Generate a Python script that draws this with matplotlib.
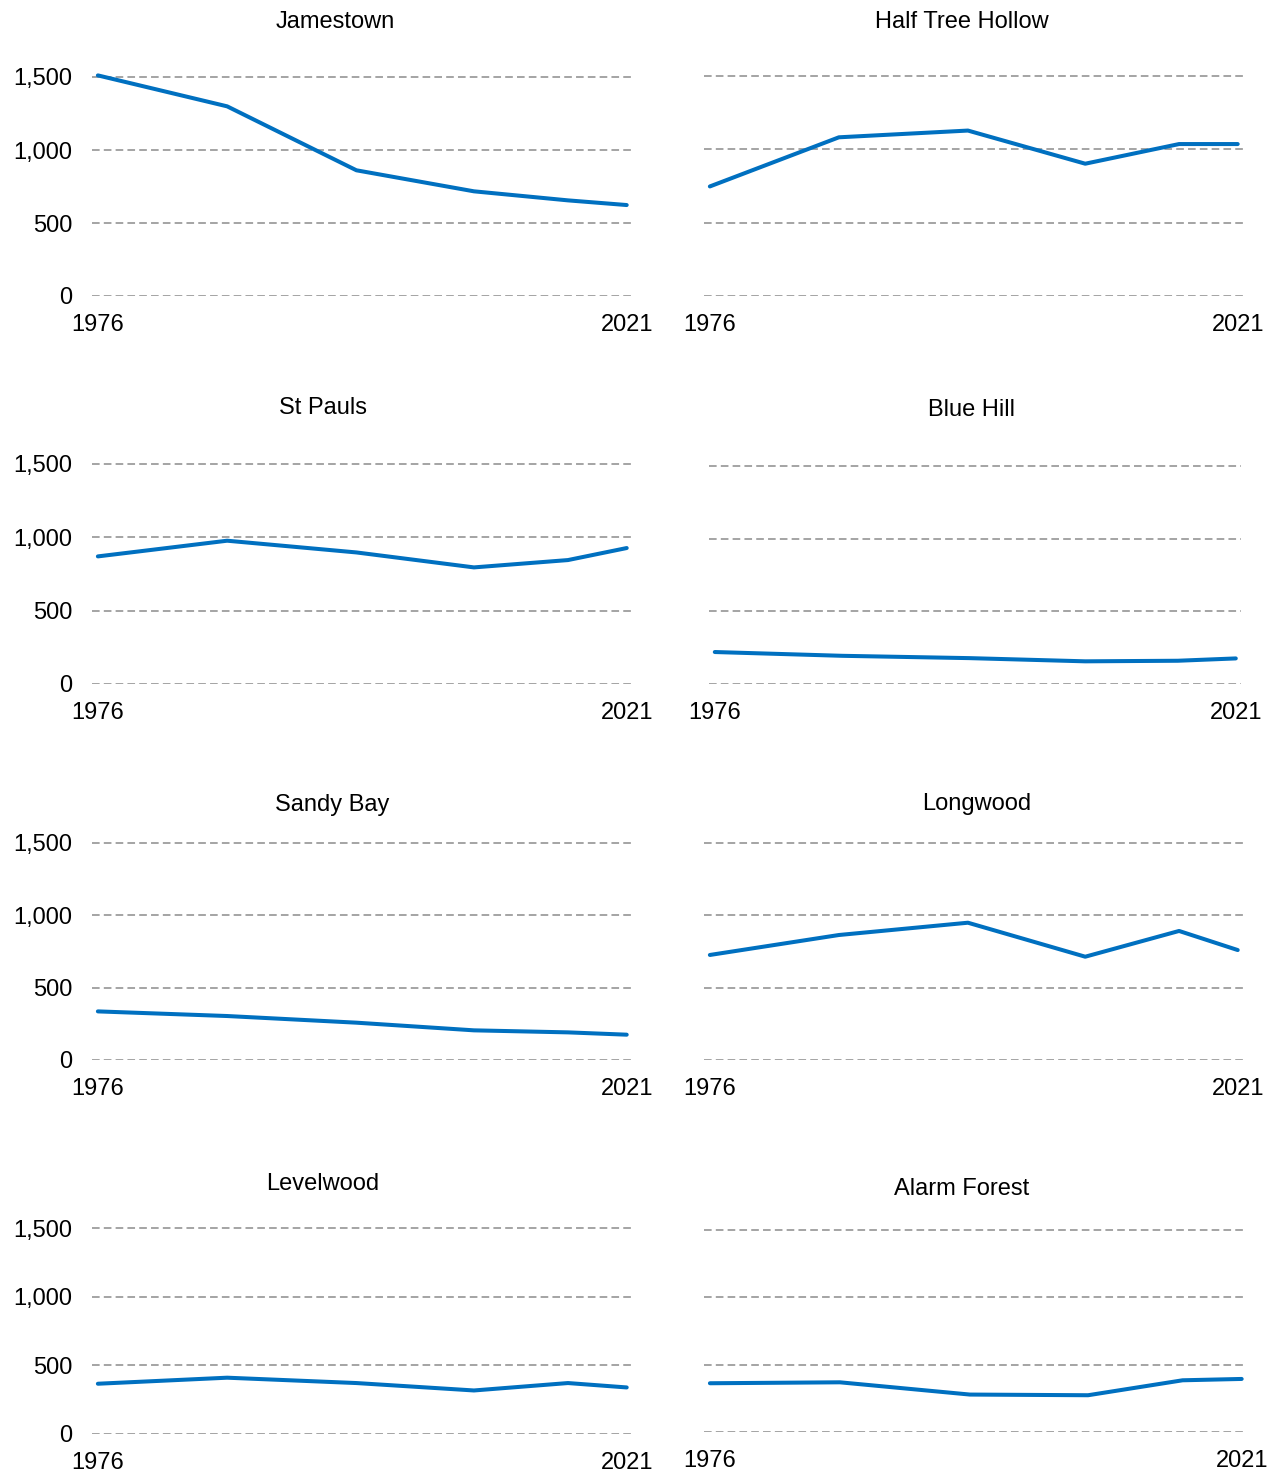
import numpy as np
import matplotlib.pyplot as plt
from matplotlib.ticker import FuncFormatter

plt.rcParams.update({
    "font.family": ["Liberation Sans", "DejaVu Sans"],
    "font.size": 17,
    "lines.scale_dashes": False,
})

# census years
YEARS = [1976, 1987, 1998, 2008, 2016, 2021]

JAMESTOWN = [1511, 1299, 861, 717, 655, 623]
HALF_TREE_HOLLOW = [747, 1082, 1128, 902, 1036, 1036]
ST_PAULS = [870, 977, 897, 795, 845, 927]
BLUE_HILL = [220, 194, 178, 156, 160, 176]
SANDY_BAY = [336, 304, 258, 205, 191, 175]
LONGWOOD = [726, 864, 949, 714, 892, 760]
LEVELWOOD = [366, 410, 371, 317, 371, 339]
ALARM_FOREST = [362, 369, 278, 273, 384, 394]

DISTRICTS = ["Jamestown", "Half Tree Hollow", "St Pauls", "Blue Hill",
             "Sandy Bay", "Longwood", "Levelwood", "Alarm Forest"]
SERIES = [JAMESTOWN, HALF_TREE_HOLLOW, ST_PAULS, BLUE_HILL,
          SANDY_BAY, LONGWOOD, LEVELWOOD, ALARM_FOREST]

Y_TICKS = [0, 500, 1000, 1500]
LINE_COLOR = "#0070C0"
GRID_COLOR = "#8c8c8c"

W, H = 1275, 1472

# pixel layout per panel: (x_left, x_right, y_zero, y_1500, title_x, title_y)
LAYOUT = [
    (92, 632, 296, 77, 335, 22),
    (704, 1243, 296, 76, 962, 22),
    (92, 632, 684, 464, 323, 408),
    (709, 1241, 684, 466, 972, 410),
    (92, 632, 1060, 843, 332, 805),
    (704, 1243, 1060, 843, 977, 804),
    (92, 632, 1434, 1228, 323, 1184),
    (704, 1247, 1432, 1230, 962, 1189),
]

YMAX = 1600


def thousands(v, pos):
    return f"{int(v):,}"


fig = plt.figure(figsize=(W / 100, H / 100), dpi=100)

for i, (name, values) in enumerate(zip(DISTRICTS, SERIES)):
    xl, xr, y0, y15, tx, ty = LAYOUT[i]
    px_per_unit = (y0 - y15) / 1500
    top_px = y0 - YMAX * px_per_unit

    ax = fig.add_axes([xl / W, 1 - y0 / H, (xr - xl) / W, (y0 - top_px) / H])

    for yv in Y_TICKS:
        ax.axhline(yv, color=GRID_COLOR, linewidth=1.1,
                   dashes=(5.5, 3.0), zorder=0)

    ax.plot(YEARS, values, color=LINE_COLOR, linewidth=2.9,
            solid_capstyle="round", solid_joinstyle="round", zorder=3)

    ax.set_xlim(1975.5, 2021.45)
    ax.set_ylim(0, YMAX)

    ax.set_xticks([1976, 2021])
    ax.set_xticklabels(["1976", "2021"])
    ax.tick_params(axis="x", length=0, pad=13)

    if i % 2 == 0:
        ax.set_yticks(Y_TICKS)
        ax.yaxis.set_major_formatter(FuncFormatter(thousands))
        ax.tick_params(axis="y", length=0, pad=14)
    else:
        ax.set_yticks([])

    for s in ax.spines.values():
        s.set_visible(False)
    ax.patch.set_alpha(0)

    fig.text(tx / W, 1 - ty / H, name, ha="center", va="center", fontsize=17)

fig.savefig("out.png", dpi=100)
